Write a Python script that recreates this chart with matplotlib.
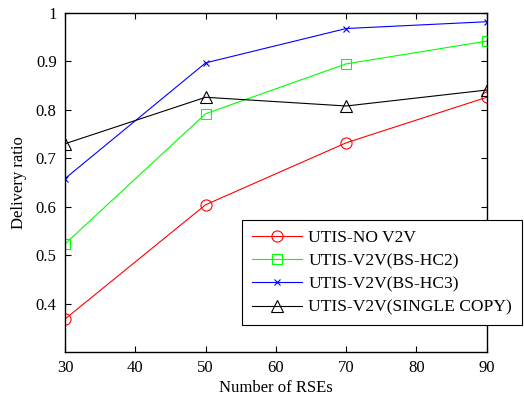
import matplotlib
matplotlib.use('Agg')
import matplotlib.pyplot as plt

# Data
rse = [30, 50, 70, 90]
no_v2v = [0.368, 0.604, 0.732, 0.826]
bs_hc2 = [0.523, 0.792, 0.895, 0.942]
bs_hc3 = [0.658, 0.897, 0.968, 0.982]
single_copy = [0.730, 0.826, 0.808, 0.841]

plt.rcParams['font.family'] = 'Liberation Serif'
plt.rcParams['font.size'] = 12

fig = plt.figure(figsize=(5.24, 4.03), dpi=100)
ax = fig.add_axes([0.124, 0.1266, 0.805, 0.8411])

ax.plot(rse, no_v2v, color='red', marker='o', mfc='none', ms=8, lw=0.8, mew=0.8, label='UTIS-NO V2V')
ax.plot(rse, bs_hc2, color='#00ff00', marker='s', mfc='none', ms=7.5, lw=0.8, mew=0.8, label='UTIS-V2V(BS-HC2)')
ax.plot(rse, bs_hc3, color='blue', marker='x', ms=5, lw=0.8, mew=0.8, label='UTIS-V2V(BS-HC3)')
ax.plot(rse, single_copy, color='black', marker='^', mfc='none', ms=9, lw=0.8, mew=0.8, label='UTIS-V2V(SINGLE COPY)')

ax.set_xlim(30, 90)
ax.set_ylim(0.3, 1.0)
ax.set_xticks([30, 40, 50, 60, 70, 80, 90])
ax.set_yticks([0.4, 0.5, 0.6, 0.7, 0.8, 0.9, 1.0])
ax.set_yticklabels(['0.4', '0.5', '0.6', '0.7', '0.8', '0.9', '1'])
ax.tick_params(direction='in', top=True, right=True, length=4, width=0.8, labelsize=12, pad=6)
for s in ax.spines.values():
    s.set_linewidth(1.0)

ax.set_xlabel('Number of RSEs', fontsize=12, labelpad=3)
ax.set_ylabel('Delivery ratio', fontsize=12, labelpad=6)

# legend sticks out past the right edge of the axes, as in the original
leg = ax.legend(loc='upper left', bbox_to_anchor=(242 / 524, 1 - 220 / 403), bbox_transform=fig.transFigure,
                borderaxespad=0, fancybox=False, framealpha=1, edgecolor='black', fontsize=12.6,
                handlelength=2.9, handletextpad=0.35, labelspacing=0.4, borderpad=0.55)
leg.get_frame().set_linewidth(0.8)

fig.savefig('out.png', dpi=100)
